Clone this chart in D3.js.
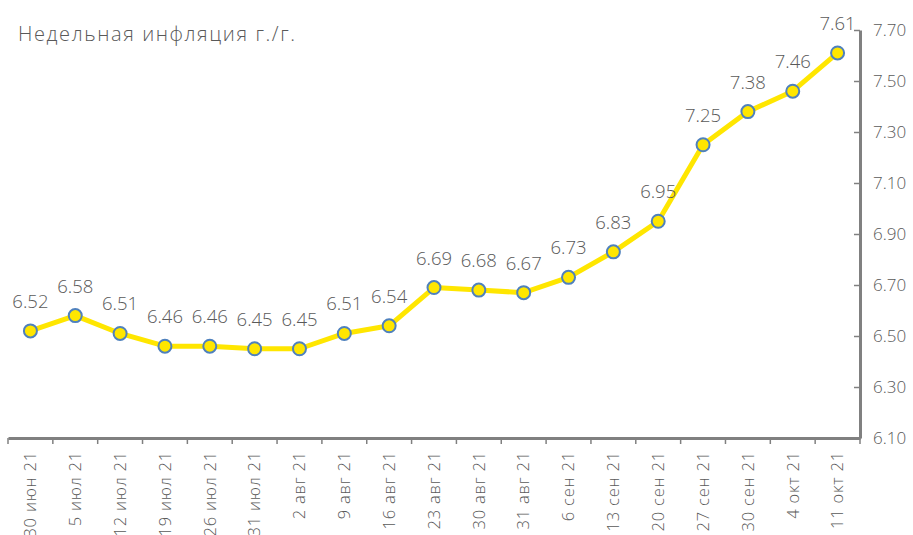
<!DOCTYPE html>
<html lang="ru">
<head>
<meta charset="utf-8">
<title>Недельная инфляция</title>
<script src="https://d3js.org/d3.v7.min.js"></script>
<style>
  body { margin: 0; background: #fff; }
  svg text { font-family: "Century Gothic", "Open Sans", "DejaVu Sans", sans-serif; font-weight: 300; fill: #595959; }
</style>
</head>
<body>
<div id="chart"></div>
<script>
// data
const dates = ["30 июн 21", "5 июл 21", "12 июл 21", "19 июл 21", "26 июл 21", "31 июл 21",
  "2 авг 21", "9 авг 21", "16 авг 21", "23 авг 21", "30 авг 21", "31 авг 21", "6 сен 21",
  "13 сен 21", "20 сен 21", "27 сен 21", "30 сен 21", "4 окт 21", "11 окт 21"];
const inflation = [6.52, 6.58, 6.51, 6.46, 6.46, 6.45, 6.45, 6.51, 6.54, 6.69, 6.68, 6.67,
  6.73, 6.83, 6.95, 7.25, 7.38, 7.46, 7.61];
const yTicks = [6.10, 6.30, 6.50, 6.70, 6.90, 7.10, 7.30, 7.50, 7.70];
const title = "Недельная инфляция г./г.";

const width = 913, height = 535;
const plotLeft = 8, plotRight = 860, plotTop = 30, plotBottom = 438;

const svg = d3.select("#chart").append("svg")
  .attr("width", width).attr("height", height);

const x = d3.scaleBand().domain(dates).range([plotLeft, plotRight]);
const y = d3.scaleLinear().domain([6.1, 7.7]).range([plotBottom, plotTop]);

// title
svg.append("text")
  .attr("x", 18).attr("y", 41)
  .style("font-size", "20px")
  .style("letter-spacing", "1.6px")
  .text(title);

// x axis
const xAxis = svg.append("g")
  .attr("transform", `translate(0,${plotBottom})`)
  .call(d3.axisBottom(x).tickSize(0));
xAxis.select(".domain").attr("stroke", "#808080").attr("stroke-width", 3);
xAxis.selectAll(".tick text")
  .attr("transform", "rotate(-90)")
  .attr("x", -13).attr("y", 0).attr("dy", "0.35em")
  .attr("text-anchor", "end")
  .style("font-size", "16.5px")
  .style("letter-spacing", "0.8px")
  .attr("fill", "#595959");

// category tick marks at band edges
svg.append("g").selectAll("line")
  .data(dates.concat(["end"]))
  .join("line")
  .attr("x1", (d, i) => i < dates.length ? x(d) : x.range()[1])
  .attr("x2", (d, i) => i < dates.length ? x(d) : x.range()[1])
  .attr("y1", plotBottom).attr("y2", plotBottom + 6)
  .attr("stroke", "#808080").attr("stroke-width", 1.5);

// y axis on the right
const yAxis = svg.append("g")
  .attr("transform", `translate(${plotRight},0)`)
  .call(d3.axisRight(y).tickValues(yTicks).tickFormat(d3.format(".2f")).tickSize(0).tickPadding(13));
yAxis.select(".domain").attr("stroke", "#808080").attr("stroke-width", 3);
yAxis.selectAll(".tick text").style("font-size", "17px").attr("fill", "#595959");
yAxis.selectAll(".tick").append("line")
  .attr("x1", -6).attr("x2", 0)
  .attr("stroke", "#808080").attr("stroke-width", 1.5);

const cx = d => x(d) + x.bandwidth() / 2;

// line
svg.append("path")
  .datum(inflation)
  .attr("fill", "none")
  .attr("stroke", "#FFE600")
  .attr("stroke-width", 5)
  .attr("stroke-linejoin", "round")
  .attr("d", d3.line().x((d, i) => cx(dates[i])).y(d => y(d)));

// markers
svg.append("g").selectAll("circle")
  .data(inflation)
  .join("circle")
  .attr("cx", (d, i) => cx(dates[i]))
  .attr("cy", d => y(d))
  .attr("r", 6.5)
  .attr("fill", "#FFE600")
  .attr("stroke", "#4F81BD")
  .attr("stroke-width", 2);

// data labels
svg.append("g").selectAll("text")
  .data(inflation)
  .join("text")
  .attr("x", (d, i) => cx(dates[i]))
  .attr("y", d => y(d) - 23)
  .attr("text-anchor", "middle")
  .style("font-size", "18.5px")
  .text(d => d.toFixed(2));
</script>
</body>
</html>
